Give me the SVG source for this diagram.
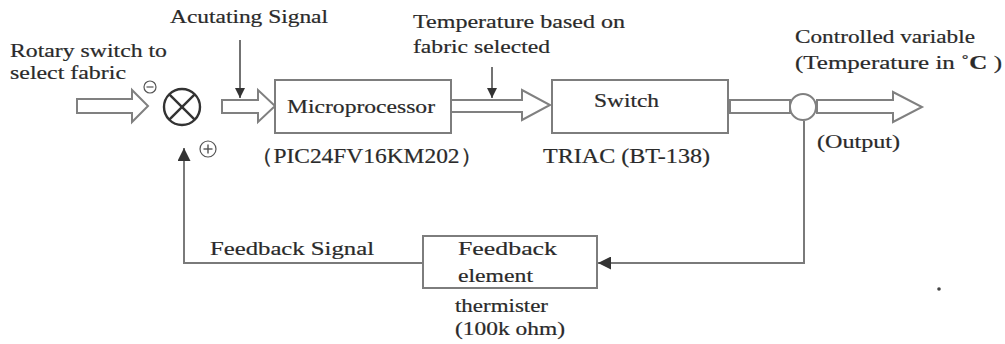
<svg xmlns="http://www.w3.org/2000/svg" width="1005" height="344" viewBox="0 0 1005 344">
<defs>
<style>
text{font-family:'Liberation Serif','DejaVu Serif',serif;fill:#2a2a2a;stroke:#2a2a2a;stroke-width:0.2;}
.t{font-size:19px;}
.tl{font-size:21px;}
.box{fill:#fff;stroke:#7d7d7d;stroke-width:2;}
.hol{fill:#fff;stroke:#808080;stroke-width:2;stroke-linejoin:miter;}
.ln{fill:none;stroke:#7a7a7a;stroke-width:2;}
.thin{fill:none;stroke:#444;stroke-width:1.5;}
</style>
<marker id="ah" viewBox="0 0 10 10" refX="10" refY="5" markerWidth="10" markerHeight="10" markerUnits="userSpaceOnUse" orient="auto">
<path d="M0,0 L10,5 L0,10 Z" fill="#333"/>
</marker>
<marker id="ahb" viewBox="0 0 10 10" refX="10" refY="5" markerWidth="13" markerHeight="13" markerUnits="userSpaceOnUse" orient="auto">
<path d="M0,0 L10,5 L0,10 Z" fill="#333"/>
</marker>
</defs>
<rect width="1005" height="344" fill="#fff"/>

<g id="connectors">
<polygon class="hol" points="77,99 132,99 132,90 148,106 132,122 132,113 77,113"/>
<polygon class="hol" points="222,100 258,100 258,90 275,106 258,122 258,113 222,113"/>
<polygon class="hol" points="451,100 522,100 522,90 550,105 522,120 522,112 451,112"/>
<rect class="hol" x="730" y="100" width="60" height="13"/>
<polygon class="hol" points="817,100 893,100 893,92 922,107 893,122 893,113 817,113"/>
<line class="thin" x1="240" y1="40" x2="240" y2="98" marker-end="url(#ah)"/>
<line class="thin" x1="492" y1="67" x2="492" y2="98" marker-end="url(#ah)"/>
<polyline class="ln" points="804,121 804,263 598,263" marker-end="url(#ahb)"/>
<polyline class="ln" points="423,263 184,263 184,148" marker-end="url(#ahb)"/>
</g>

<g id="summing-junction">
<circle cx="182" cy="107" r="18" fill="#fff" stroke="#333" stroke-width="2.4"/>
<line x1="169.3" y1="94.3" x2="194.7" y2="119.7" stroke="#333" stroke-width="2.4"/>
<line x1="194.7" y1="94.3" x2="169.3" y2="119.7" stroke="#333" stroke-width="2.4"/>
<circle cx="150" cy="87" r="6" fill="#fff" stroke="#555" stroke-width="1.2"/>
<line x1="146.5" y1="87" x2="153.5" y2="87" stroke="#555" stroke-width="1.2"/>
<circle cx="208" cy="149" r="8" fill="#fff" stroke="#555" stroke-width="1.2"/>
<line x1="203.5" y1="149" x2="212.5" y2="149" stroke="#555" stroke-width="1.4"/>
<line x1="208" y1="144.5" x2="208" y2="153.5" stroke="#555" stroke-width="1.4"/>
</g>

<g id="microprocessor">
<rect class="box" x="275" y="80" width="176" height="53"/>
<text class="t" x="287" y="113" textLength="148" lengthAdjust="spacingAndGlyphs">Microprocessor</text>
<text class="tl" x="250" y="163" textLength="233" lengthAdjust="spacingAndGlyphs" font-family="'Liberation Serif','Noto Sans CJK SC',serif">（PIC24FV16KM202）</text>
</g>

<g id="switch">
<rect class="box" x="552" y="80" width="176" height="53"/>
<text class="t" x="594" y="107" textLength="65" lengthAdjust="spacingAndGlyphs">Switch</text>
<text class="tl" x="543" y="163" textLength="167" lengthAdjust="spacingAndGlyphs">TRIAC (BT-138)</text>
</g>

<g id="output-takeoff">
<circle cx="803" cy="107" r="13" fill="#fff" stroke="#808080" stroke-width="2"/>
</g>

<g id="feedback-element">
<rect class="box" x="423" y="236" width="174" height="52"/>
<text class="t" x="458" y="255" textLength="99" lengthAdjust="spacingAndGlyphs">Feedback</text>
<text class="t" x="458" y="282" textLength="75" lengthAdjust="spacingAndGlyphs">element</text>
<text class="t" x="455" y="312" textLength="93" lengthAdjust="spacingAndGlyphs">thermister</text>
<text class="t" x="455" y="335" textLength="110" lengthAdjust="spacingAndGlyphs">(100k ohm)</text>
</g>

<g id="labels">
<text class="t" x="10" y="57" textLength="157" lengthAdjust="spacingAndGlyphs">Rotary switch to</text>
<text class="t" x="10" y="79" textLength="116" lengthAdjust="spacingAndGlyphs">select fabric</text>
<text class="t" x="170" y="23" textLength="158" lengthAdjust="spacingAndGlyphs">Acutating Signal</text>
<text class="t" x="413" y="28" textLength="212" lengthAdjust="spacingAndGlyphs">Temperature based on</text>
<text class="t" x="413" y="53" textLength="137" lengthAdjust="spacingAndGlyphs">fabric selected</text>
<text class="t" x="795" y="43" textLength="180" lengthAdjust="spacingAndGlyphs">Controlled variable</text>
<text class="t" x="795" y="69" textLength="207" lengthAdjust="spacingAndGlyphs">(Temperature in ˚<tspan font-weight="bold">C</tspan> )</text>
<text class="t" x="817" y="148" textLength="83" lengthAdjust="spacingAndGlyphs">(Output)</text>
<text class="t" x="210" y="255" textLength="164" lengthAdjust="spacingAndGlyphs">Feedback Signal</text>
</g>
<circle cx="939" cy="289" r="1.8" fill="#444"/>
</svg>
